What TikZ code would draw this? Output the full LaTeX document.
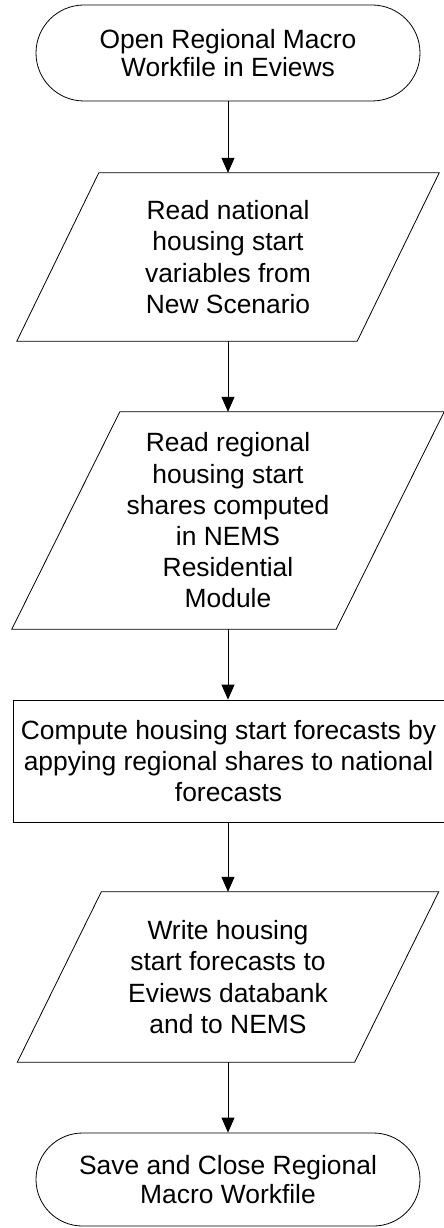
\documentclass[tikz,border=0pt]{standalone}
\usepackage{fontspec}
\setmainfont{Liberation Sans}
\usetikzlibrary{arrows.meta,shapes.misc,calc}
\begin{document}
\begin{tikzpicture}[x=1pt,y=1pt,
  txt/.style={font=\fontsize{26.4}{31.2}\selectfont, align=center, text=black},
  term/.style={rounded rectangle, draw, line width=0.8pt, minimum width=384pt, inner sep=0pt, txt, font=\fontsize{26.4}{28.3}\selectfont},
  procbox/.style={rectangle, draw, line width=0.8pt, inner sep=0pt, txt},
  pbox/.style={rectangle, inner sep=0pt, txt},
  pline/.style={line width=0.8pt},
  conn/.style={-{Triangle[length=15pt,width=13pt]}, line width=0.8pt}]
\useasboundingbox (0,0) rectangle (444,-1228);
\node[term, minimum height=96pt] (t1) at (228,-53) {Open Regional Macro\\Workfile in Eviews};
\node[pbox, minimum width=422pt, minimum height=168pt] (p1) at (228,-257) {Read national\\housing start\\variables from\\New Scenario};
\draw[pline] ($(p1.north west)+(82,0)$) -- (p1.north east) -- ($(p1.south east)-(82,0)$) -- (p1.south west) -- cycle;
\node[pbox, minimum width=432pt, minimum height=217pt] (p2) at (228,-520.5) {Read regional\\housing start\\shares computed\\in NEMS\\Residential\\Module};
\draw[pline] ($(p2.north west)+(108,0)$) -- (p2.north east) -- ($(p2.south east)-(108,0)$) -- (p2.south west) -- cycle;
\node[procbox, minimum width=431pt, minimum height=122pt] (r1) at (228.5,-761) {Compute housing start forecasts by\\appying regional shares to national\\forecasts};
\node[pbox, minimum width=421pt, minimum height=170pt] (p3) at (228,-977) {Write housing\\start forecasts to\\Eviews databank\\and to NEMS};
\draw[pline] ($(p3.north west)+(84,0)$) -- (p3.north east) -- ($(p3.south east)-(84,0)$) -- (p3.south west) -- cycle;
\node[term, minimum height=93pt] (t2) at (228,-1179.5) {Save and Close Regional\\Macro Workfile};
\draw[conn] (t1.south) -- (p1.north);
\draw[conn] (p1.south) -- (p2.north);
\draw[conn] (p2.south) -- (p2.south |- r1.north);
\draw[conn] (p2.south |- r1.south) -- (p3.north);
\draw[conn] (p3.south) -- (t2.north);
\end{tikzpicture}
\end{document}
